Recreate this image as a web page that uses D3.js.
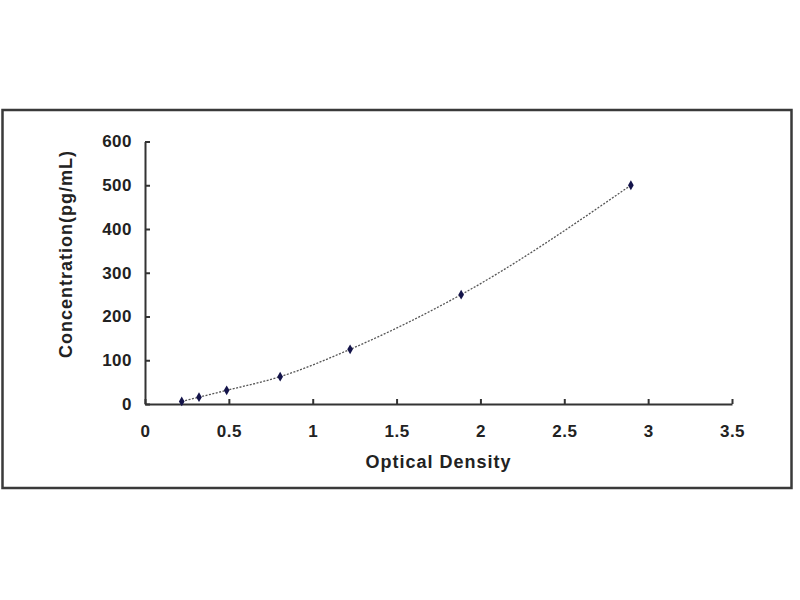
<!DOCTYPE html>
<html lang="en">
<head>
    <meta charset="UTF-8">
    <title>Standard Curve</title>
    <script src="https://d3js.org/d3.v7.min.js"></script>
    <style>
        body {
            margin: 0;
            background-color: #fff;
        }

        svg {
            display: block;
            font-family: Arial, "Liberation Sans", sans-serif;
        }

        .tick text {
            font-size: 17px;
            font-weight: bold;
            fill: #222;
            letter-spacing: 0.5px;
        }

        .axis-label {
            font-size: 18px;
            font-weight: bold;
            fill: #222;
            letter-spacing: 1px;
        }
    </style>
</head>
<body>
    <svg id="chart" width="800" height="600"></svg>
    <script>
        // Data
        const opticalDensity = [0.219, 0.322, 0.487, 0.806, 1.223, 1.885, 2.897];
        const concentration = [6, 15.6, 31.2, 62.5, 125, 250, 500];

        const xTicks = [0, 0.5, 1, 1.5, 2, 2.5, 3, 3.5];
        const yTicks = [0, 100, 200, 300, 400, 500, 600];

        const points = opticalDensity.map((od, i) => ({ x: od, y: concentration[i] }));

        // Plot area in page pixels
        const plot = { left: 145, right: 732, top: 141.5, bottom: 404 };

        const svg = d3.select("#chart");

        // Outer frame
        svg.append("rect")
           .attr("x", 2.5)
           .attr("y", 110)
           .attr("width", 789)
           .attr("height", 378)
           .attr("fill", "#fff")
           .attr("stroke", "#3a3a3a")
           .attr("stroke-width", 2.5);

        const x = d3.scaleLinear().domain([0, 3.5]).range([plot.left, plot.right]);
        const y = d3.scaleLinear().domain([0, 600]).range([plot.bottom, plot.top]);

        // Axes, ticks pointing inward
        const xAxis = svg.append("g")
           .attr("transform", `translate(0,${plot.bottom})`)
           .call(d3.axisBottom(x)
                   .tickValues(xTicks)
                   .tickFormat(d3.format("~g"))
                   .tickSizeInner(-5)
                   .tickSizeOuter(0)
                   .tickPadding(21));

        const yAxis = svg.append("g")
           .attr("transform", `translate(${plot.left},0)`)
           .call(d3.axisLeft(y)
                   .tickValues(yTicks)
                   .tickFormat(d3.format("d"))
                   .tickSizeInner(-5)
                   .tickSizeOuter(0)
                   .tickPadding(13));

        [xAxis, yAxis].forEach(g => {
            g.select(".domain").attr("stroke", "#333").attr("stroke-width", 2);
            g.selectAll(".tick line").attr("stroke", "#333").attr("stroke-width", 2);
        });

        // Fitted curve through the standards
        const line = d3.line()
                       .x(d => x(d.x))
                       .y(d => y(d.y))
                       .curve(d3.curveMonotoneX);

        svg.append("path")
           .datum(points)
           .attr("d", line)
           .attr("fill", "none")
           .attr("stroke", "#555")
           .attr("stroke-width", 1.3)
           .attr("stroke-dasharray", "2,1.5");

        // Standard points
        svg.selectAll(".pt")
           .data(points)
           .enter()
           .append("path")
           .attr("class", "pt")
           .attr("transform", d => `translate(${x(d.x)},${y(d.y)})`)
           .attr("d", d3.symbol().type(d3.symbolDiamond).size(28))
           .attr("fill", "#14144a");

        // Axis titles
        svg.append("text")
           .attr("class", "axis-label")
           .attr("x", (plot.left + plot.right) / 2)
           .attr("y", 468)
           .style("text-anchor", "middle")
           .text("Optical Density");

        svg.append("text")
           .attr("class", "axis-label")
           .attr("transform", "translate(72,254) rotate(-90)")
           .style("text-anchor", "middle")
           .text("Concentration(pg/mL)");
    </script>
</body>
</html>
